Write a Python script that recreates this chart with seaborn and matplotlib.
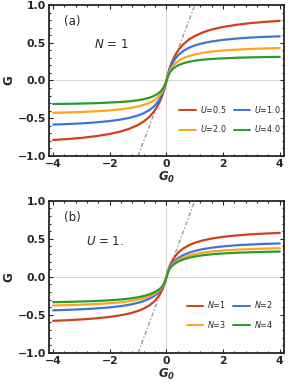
import numpy as np
import pandas as pd
import matplotlib
matplotlib.use('Agg')
import matplotlib.pyplot as plt
from matplotlib.ticker import MultipleLocator
import seaborn as sns

# positive G0 sample points (curves are odd in G0)
g0_pos = [0.06, 0.12, 0.18, 0.25, 0.35, 0.45, 0.6, 0.8, 1, 1.3, 1.6, 2, 2.5, 3, 3.5, 4]

# panel (a): N = 1, different U
g_u05 = [0.094, 0.170, 0.232, 0.293, 0.362, 0.417, 0.481, 0.544, 0.589, 0.639, 0.675, 0.709, 0.739, 0.761, 0.777, 0.789]
g_u10 = [0.087, 0.153, 0.205, 0.254, 0.306, 0.347, 0.392, 0.434, 0.464, 0.495, 0.517, 0.538, 0.556, 0.569, 0.578, 0.585]
g_u20 = [0.072, 0.125, 0.165, 0.200, 0.238, 0.266, 0.296, 0.324, 0.344, 0.367, 0.382, 0.397, 0.409, 0.418, 0.424, 0.429]
g_u40 = [0.062, 0.104, 0.135, 0.160, 0.187, 0.207, 0.229, 0.248, 0.262, 0.276, 0.285, 0.293, 0.301, 0.306, 0.310, 0.312]

# panel (b): U = 1, different N
g_n1 = [0.085, 0.148, 0.195, 0.240, 0.290, 0.330, 0.375, 0.417, 0.448, 0.481, 0.504, 0.527, 0.546, 0.560, 0.570, 0.578]
g_n2 = [0.075, 0.128, 0.163, 0.195, 0.229, 0.256, 0.287, 0.318, 0.341, 0.366, 0.384, 0.401, 0.416, 0.426, 0.434, 0.440]
g_n3 = [0.070, 0.118, 0.150, 0.177, 0.206, 0.229, 0.255, 0.280, 0.299, 0.319, 0.334, 0.347, 0.358, 0.366, 0.372, 0.377]
g_n4 = [0.066, 0.110, 0.138, 0.162, 0.187, 0.207, 0.230, 0.251, 0.268, 0.285, 0.297, 0.308, 0.318, 0.324, 0.329, 0.333]

labels_a = [r'$U$=0.5', r'$U$=1.0', r'$U$=2.0', r'$U$=4.0']
labels_b = [r'$N$=1', r'$N$=2', r'$N$=3', r'$N$=4']

# reference line G = G0
diag_x = [-1, 1]
diag_y = [-1, 1]

colors = ['#D2401A', '#3F73D9', '#FFA51A', '#2B9B2B']

g0 = [-v for v in reversed(g0_pos)] + [0] + g0_pos


def odd(pos):
    return [-v for v in reversed(pos)] + [-0.005] + pos


sns.set_style('ticks')
plt.rcParams['font.family'] = ['DejaVu Sans']
plt.rcParams['mathtext.fontset'] = 'custom'
plt.rcParams['mathtext.it'] = 'DejaVu Sans:italic'
plt.rcParams['mathtext.bf'] = 'DejaVu Sans:bold:italic'
plt.rcParams['mathtext.rm'] = 'DejaVu Sans'

fig = plt.figure(figsize=(2.91, 3.84), dpi=100)
ax_a = fig.add_axes([0.168, 0.594, 0.808, 0.393])
ax_b = fig.add_axes([0.168, 0.081, 0.808, 0.396])


def draw(ax, series, labels, tag, note, note_x, leg_xy):
    df = pd.concat([pd.DataFrame({'G0': g0, 'G': odd(s), 'lab': l}) for s, l in zip(series, labels)])
    ax.axhline(0, color='#cccccc', lw=0.6, zorder=0)
    ax.axvline(0, color='#cccccc', lw=0.6, zorder=0)
    ax.plot(diag_x, diag_y, color='#999999', lw=1.0, ls=(0, (3, 1.5, 1, 1.5)), zorder=1)
    sns.lineplot(data=df, x='G0', y='G', hue='lab', palette=colors, ax=ax,
                 lw=1.6, sort=True, estimator=None, zorder=2)
    ax.set_xlim(-4.15, 4.15)
    ax.set_ylim(-1, 1)
    ax.xaxis.set_minor_locator(MultipleLocator(0.4))
    ax.yaxis.set_minor_locator(MultipleLocator(0.1))
    ax.set_yticks([-1, -0.5, 0, 0.5, 1])
    ax.set_yticklabels(['\u22121.0', '\u22120.5', '0.0', '0.5', '1.0'])
    ax.set_xticks([-4, -2, 0, 2, 4])
    ax.set_xticklabels(['\u22124', '\u22122', '0', '2', '4'])
    ax.tick_params(which='both', direction='in', top=True, right=True, width=0.8,
                   labelsize=7.8, pad=2)
    ax.tick_params(which='major', length=3)
    ax.tick_params(which='minor', length=1.6)
    for lab in ax.get_xticklabels() + ax.get_yticklabels():
        lab.set_fontweight('bold')
    for sp in ax.spines.values():
        sp.set_linewidth(1.3)
    ax.set_xlabel(r'$\mathbf{G_0}$', fontsize=8.5, labelpad=1)
    ax.set_ylabel('G', fontsize=8.5, fontweight='bold', labelpad=2)
    ax.text(-3.63, 0.78, tag, fontsize=8.5, va='center')
    ax.text(note_x, 0.47, note, fontsize=8.5, va='center')
    handles, labs = ax.get_legend_handles_labels()
    order = [0, 2, 1, 3]
    leg = ax.legend([handles[i] for i in order], [labs[i] for i in order],
                    ncol=2, loc='center', bbox_to_anchor=leg_xy, frameon=False,
                    fontsize=5.8, handlelength=2.0, columnspacing=0.9, handletextpad=0.5,
                    labelspacing=1.1)
    for line in leg.get_lines():
        line.set_linewidth(1.4)


draw(ax_a, [g_u05, g_u10, g_u20, g_u40], labels_a, '(a)', r'$N$ = 1', -2.55, (0.77, 0.245))
draw(ax_b, [g_n1, g_n2, g_n3, g_n4], labels_b, '(b)', r'$U$ = 1.', -2.85, (0.77, 0.25))

fig.savefig('out.png', dpi=100)
